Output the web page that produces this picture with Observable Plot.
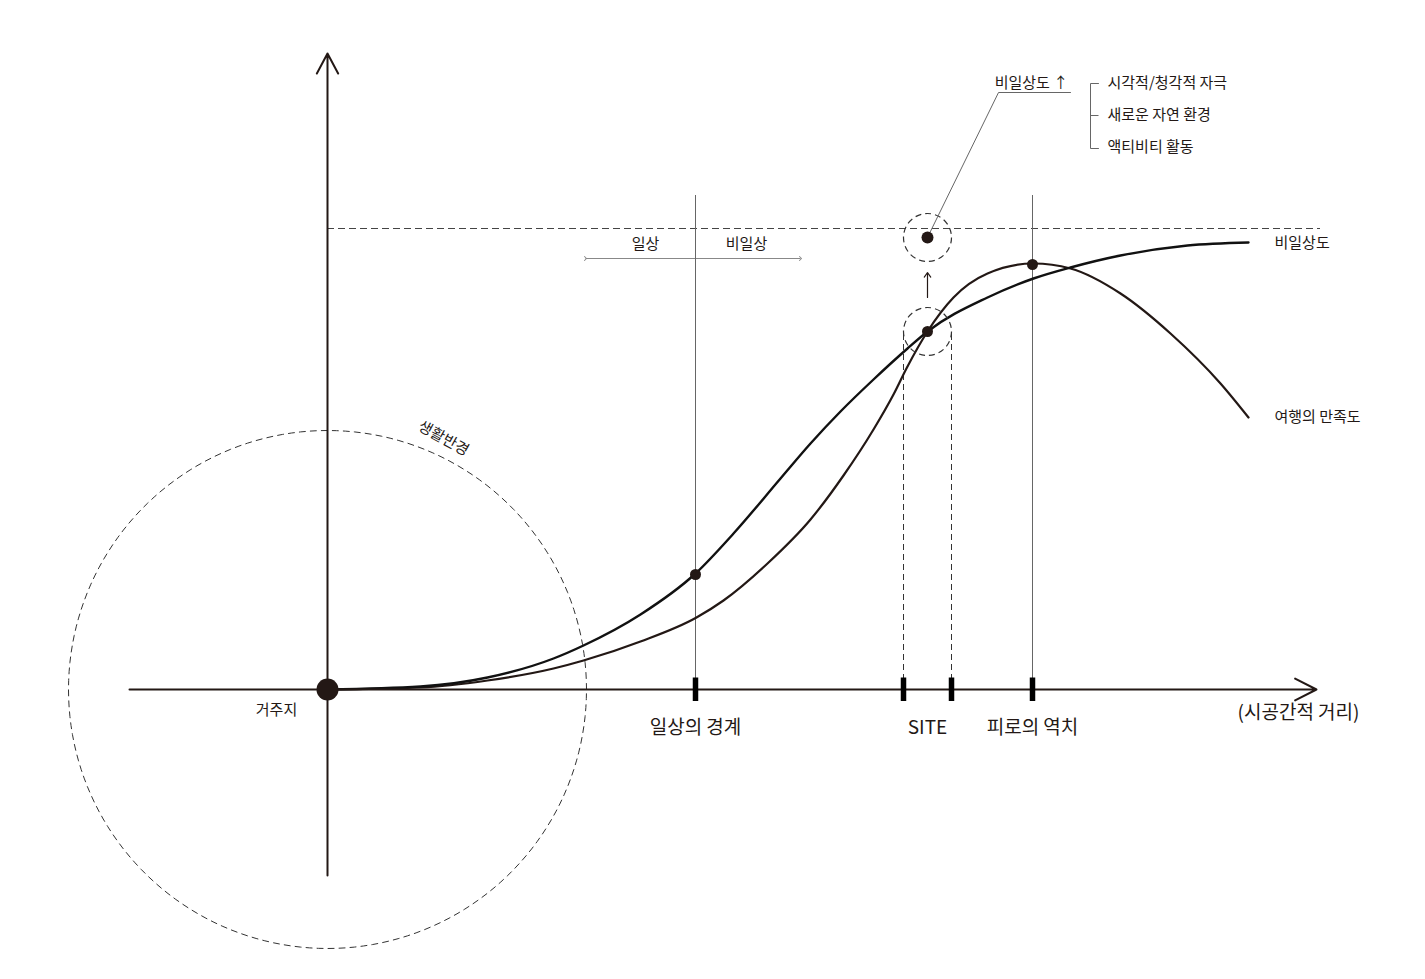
<!DOCTYPE html>
<html>
<head>
<meta charset="utf-8">
<script src="https://cdn.jsdelivr.net/npm/d3@7"></script>
<script src="https://cdn.jsdelivr.net/npm/@observablehq/plot@0.6"></script>
<style>
  html, body { margin: 0; padding: 0; background: #fff; }
  #chart svg { display: block; }
</style>
</head>
<body>
<div id="chart"></div>
<script>
// 시공간적 거리(x)에 따른 비일상도와 여행의 만족도 (개념도)
const nonDailyDist  = [0, 9.3, 16, 22.6, 25.6, 31.3, 36.8, 40.6, 45.3, 48.3, 51.3, 54.6, 58, 60, 66, 70.6, 74.3, 79.3, 86, 92.1];
const nonDailyLevel = [0, 0.3, 1.2, 3.1, 4.4, 7.5, 11.6, 15.6, 21.1, 24.6, 27.8, 31.0, 34.1, 35.8, 39.2, 41.1, 42.2, 43.4, 44.4, 44.7];

const satisfactionDist  = [0, 9.3, 16, 22.6, 25.6, 31.3, 36.9, 39.6, 44, 48.3, 51.6, 54.6, 56.6, 58, 60, 62.6, 66, 70.6, 74.3, 79.3, 84.3, 89.3, 92.1];
const satisfactionLevel = [0, 0.2, 0.9, 2.1, 2.9, 4.8, 7.2, 8.9, 12.6, 17.0, 21.4, 26.0, 29.5, 32.3, 35.8, 39.2, 41.6, 42.6, 42.1, 39.6, 35.6, 30.6, 27.2];

// 축 위의 기준 지점
const markerNames     = ["일상의 경계", "SITE", "피로의 역치"];
const markerDistances = [36.8, 60, 70.5];
const siteBounds      = [57.6, 62.4];
const tickDistances   = [36.8, 57.6, 62.4, 70.5];

// 강조 지점: 일상의 경계, SITE(교차점), 피로의 역치
const keyPointDist  = [36.8, 60, 70.5];
const keyPointLevel = [11.5, 35.8, 42.5];
const raisedSiteLevel = 45.2;
const ceilingLevel = 46.1;

const residenceRadius = 25.9;
const axisXExtent = [-19.8, 98.9];
const axisYExtent = [-18.6, 63.6];

const factorTitle = "비일상도 ↑";
const factorItems = ["시각적/청각적 자극", "새로운 자연 환경", "액티비티 활동"];
const factorLevels = [60.6, 57.4, 54.2];

const nonDaily = nonDailyDist.map((x, i) => ({x, y: nonDailyLevel[i]}));
const satisfaction = satisfactionDist.map((x, i) => ({x, y: satisfactionLevel[i]}));
const keyPoints = keyPointDist.map((x, i) => ({x, y: keyPointLevel[i]}));
const markers = markerNames.map((label, i) => ({label, x: markerDistances[i]}));
const factors = factorItems.map((label, i) => ({label, y: factorLevels[i]}));

// 생활반경: 거주지를 중심으로 한 원
const residenceCircle = d3.range(0, 361, 2).map(a => ({
  x: residenceRadius * Math.cos(a * Math.PI / 180),
  y: residenceRadius * Math.sin(a * Math.PI / 180)
}));

const ink = "#231815";
const grey = "#666";
const font = "'Noto Sans CJK KR', 'Noto Sans', sans-serif";

const siteX = markerDistances[1];
const lastND = nonDaily[nonDaily.length - 1];
const lastSat = satisfaction[satisfaction.length - 1];

const chart = Plot.plot({
  width: 1425,
  height: 979,
  margin: 0,
  x: {domain: [-32.7, 109.8], axis: null},
  y: {domain: [-29, 68.9], axis: null},
  style: {fontFamily: font, background: "#fff"},
  marks: [
    // 생활반경
    Plot.line(residenceCircle, {x: "x", y: "y", stroke: "#333", strokeWidth: 1, strokeDasharray: "6,5"}),
    Plot.text(["생활반경"], {x: 11.6, y: 25.1, text: d => d, rotate: 29, fontSize: 15, fill: ink}),

    // 비일상도 상한 기준선
    Plot.ruleY([ceilingLevel], {x1: 0, x2: 99.3, stroke: "#444", strokeWidth: 1, strokeDasharray: "7,4"}),

    // 일상 / 비일상 구분
    Plot.link([{x1: 25.8, x2: 47.3, y: 43.1}], {x1: "x1", x2: "x2", y1: "y", y2: "y", stroke: "#888", strokeWidth: 1, markerStart: "arrow", markerEnd: "arrow"}),
    Plot.text(["일상", "비일상"], {x: [31.8, 41.9], y: 44.5, text: d => d, fontSize: 15, fill: ink}),

    // 기준 지점 수직선
    Plot.ruleX([markerDistances[0], markerDistances[2]], {y1: -1.1, y2: 49.4, stroke: grey, strokeWidth: 1}),
    Plot.ruleX(siteBounds, {y1: -1.1, y2: keyPointLevel[1], stroke: "#333", strokeWidth: 1, strokeDasharray: "6,4"}),

    // 곡선 (y를 x의 함수로 보간)
    Plot.line(satisfaction, {x: "x", y: "y", curve: "monotone-x", stroke: ink, strokeWidth: 2.2}),
    Plot.line(nonDaily, {x: "x", y: "y", curve: "monotone-x", stroke: "#111", strokeWidth: 2.4}),

    // 축
    Plot.arrow([{}], {x1: axisXExtent[0], x2: axisXExtent[1], y1: 0, y2: 0, stroke: ink, strokeWidth: 2, headLength: 18, headAngle: 54}),
    Plot.arrow([{}], {x1: 0, x2: 0, y1: axisYExtent[0], y2: axisYExtent[1], stroke: ink, strokeWidth: 2, headLength: 17, headAngle: 56}),

    // 눈금
    Plot.ruleX(tickDistances, {y1: -1.2, y2: 1.15, stroke: "#000", strokeWidth: 5.5}),

    // SITE 강조 원
    Plot.dot([{x: siteX, y: keyPointLevel[1]}, {x: siteX, y: raisedSiteLevel}], {x: "x", y: "y", r: 24, stroke: "#333", strokeWidth: 1.2, strokeDasharray: "6,4", fill: "none"}),
    Plot.arrow([{}], {x1: siteX, x2: siteX, y1: 39.2, y2: 41.7, stroke: ink, strokeWidth: 1.2, headLength: 7, headAngle: 70}),

    // 비일상도 요인 지시선
    Plot.line([{x: siteX, y: raisedSiteLevel}, {x: 67.1, y: 59.7}, {x: 74.3, y: 59.7}], {x: "x", y: "y", stroke: grey, strokeWidth: 1}),
    Plot.text([factorTitle], {x: 70.4, y: factorLevels[0], text: d => d, fontSize: 15, fill: ink}),
    Plot.line([{x: 77.1, y: factorLevels[0]}, {x: 76.3, y: factorLevels[0]}, {x: 76.3, y: factorLevels[2] - 0.1}, {x: 77.1, y: factorLevels[2] - 0.1}], {x: "x", y: "y", stroke: grey, strokeWidth: 1}),
    Plot.link([{}], {x1: 76.3, x2: 77.1, y1: factorLevels[1], y2: factorLevels[1], stroke: grey, strokeWidth: 1}),
    Plot.text(factors, {x: 78, y: "y", text: "label", textAnchor: "start", fontSize: 15, fill: ink}),

    // 점
    Plot.dot(keyPoints, {x: "x", y: "y", r: 5.5, fill: ink}),
    Plot.dot([{x: siteX, y: raisedSiteLevel}], {x: "x", y: "y", r: 6, fill: ink}),
    Plot.dot([{x: 0, y: 0}], {x: "x", y: "y", r: 11, fill: ink}),

    // 라벨
    Plot.text(["거주지"], {x: 0, y: 0, text: d => d, dx: -51, dy: 21, fontSize: 15, fill: ink}),
    Plot.text(markers, {x: "x", y: 0, text: "label", dy: 38, fontSize: 19, fill: ink}),
    Plot.text(["(시공간적 거리)"], {x: axisXExtent[1], y: 0, text: d => d, dx: -18, dy: 23, fontSize: 19, fill: ink}),
    Plot.text(["비일상도"], {x: lastND.x, y: lastND.y, text: d => d, dx: 26, dy: 1, textAnchor: "start", fontSize: 15, fill: ink}),
    Plot.text(["여행의 만족도"], {x: lastSat.x, y: lastSat.y, text: d => d, dx: 26, textAnchor: "start", fontSize: 15, fill: ink})
  ]
});

document.getElementById("chart").append(chart);
</script>
</body>
</html>
